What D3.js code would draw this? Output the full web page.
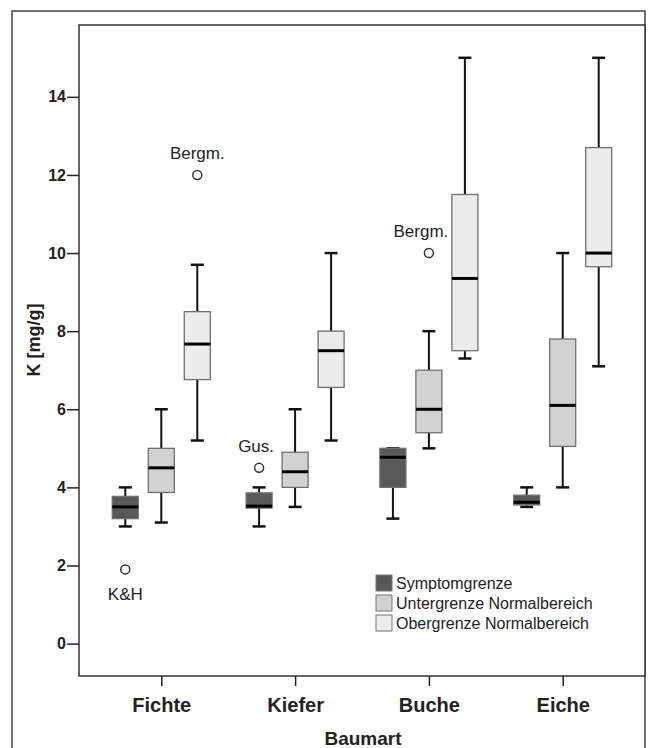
<!DOCTYPE html>
<html>
<head>
<meta charset="utf-8">
<script src="https://cdn.jsdelivr.net/npm/d3@7"></script>
<style>
  body { margin: 0; background: #fff; }
  text { font-family: "Liberation Sans", Arial, sans-serif; }
</style>
</head>
<body>
<div id="chart"></div>
<script>
var categories = ["Fichte", "Kiefer", "Buche", "Eiche"];
var series = ["Symptomgrenze", "Untergrenze Normalbereich", "Obergrenze Normalbereich"];
var colors = ["#595959", "#d2d2d2", "#ececec"];
// [whisker low, q1, median, q3, whisker high] per category
var symptom = [[3.0, 3.2, 3.5, 3.77, 4.0], [3.0, 3.47, 3.52, 3.86, 4.0], [3.2, 4.0, 4.77, 5.0, 5.0], [3.5, 3.55, 3.62, 3.8, 4.0]];
var unter = [[3.1, 3.87, 4.5, 5.0, 6.0], [3.5, 4.0, 4.4, 4.9, 6.0], [5.0, 5.4, 6.0, 7.0, 8.0], [4.0, 5.05, 6.1, 7.8, 10.0]];
var ober = [[5.2, 6.76, 7.67, 8.5, 9.7], [5.2, 6.56, 7.5, 8.0, 10.0], [7.3, 7.5, 9.35, 11.5, 15.0], [7.1, 9.65, 10.0, 12.7, 15.0]];
var yTicks = [0, 2, 4, 6, 8, 10, 12, 14];
var outliers = [
  {cat: "Fichte", s: 0, v: 1.9, label: "K&H", below: true},
  {cat: "Fichte", s: 2, v: 12.0, label: "Bergm.", below: false},
  {cat: "Kiefer", s: 0, v: 4.5, label: "Gus.", below: false},
  {cat: "Buche", s: 1, v: 10.0, label: "Bergm.", below: false}
];
var boxData = [symptom, unter, ober];

var W = 649, H = 748;
var pLeft = 79, pRight = 645, pTop = 25, pBottom = 676;

var svg = d3.select("#chart").append("svg")
  .attr("width", W).attr("height", H);

// outer frame
svg.append("rect").attr("x", 12).attr("y", 11).attr("width", pRight - 12).attr("height", H + 10)
  .attr("fill", "none").attr("stroke", "#444").attr("stroke-width", 1.5);

var x = d3.scalePoint().domain(categories).range([pLeft, pRight]).padding(0.615);
var y = d3.scaleLinear().domain([-0.83, 15.84]).range([pBottom, pTop]);
var off = d3.scalePoint().domain([0, 1, 2]).range([-36, 36]);
var bw = 26, cap = 13;

// plot frame
svg.append("rect").attr("x", pLeft).attr("y", pTop).attr("width", pRight - pLeft).attr("height", pBottom - pTop)
  .attr("fill", "#fff").attr("stroke", "#333").attr("stroke-width", 1.5);

var yAxis = svg.append("g").attr("transform", "translate(" + pLeft + ",0)")
  .call(d3.axisLeft(y).tickValues(yTicks).tickSize(12).tickPadding(1));
yAxis.select(".domain").remove();
yAxis.selectAll("line").attr("stroke", "#222").attr("stroke-width", 1.5);
yAxis.selectAll("text").attr("font-size", 16).attr("font-weight", "bold").attr("fill", "#222")
  .style("font-family", "Liberation Sans, Arial, sans-serif");

var xAxis = svg.append("g").attr("transform", "translate(0," + pBottom + ")")
  .call(d3.axisBottom(x).tickSize(10));
xAxis.select(".domain").remove();
xAxis.selectAll("line").attr("stroke", "#222").attr("stroke-width", 1.5);
xAxis.selectAll("text").attr("font-size", 20).attr("font-weight", "bold").attr("fill", "#222")
  .attr("y", 36).attr("dy", null)
  .style("font-family", "Liberation Sans, Arial, sans-serif");

svg.append("text").attr("x", 363).attr("y", 745).attr("text-anchor", "middle")
  .attr("font-size", 19).attr("font-weight", "bold").attr("fill", "#222").text("Baumart");
svg.append("text").attr("transform", "translate(40,340) rotate(-90)")
  .attr("text-anchor", "middle").attr("font-size", 18).attr("font-weight", "bold").attr("fill", "#222")
  .text("K [mg/g]");

boxData.forEach(function(arr, s) {
  var g = svg.append("g");
  var items = g.selectAll("g").data(arr).enter().append("g")
    .attr("transform", function(d, i) { return "translate(" + (x(categories[i]) + off(s)) + ",0)"; });
  items.append("line").attr("x1", 0).attr("x2", 0)
    .attr("y1", function(d) { return y(d[0]); }).attr("y2", function(d) { return y(d[4]); })
    .attr("stroke", "#111").attr("stroke-width", 2);
  items.selectAll(".cap").data(function(d) { return [d[0], d[4]]; }).enter().append("line")
    .attr("x1", -cap / 2).attr("x2", cap / 2)
    .attr("y1", function(v) { return y(v); }).attr("y2", function(v) { return y(v); })
    .attr("stroke", "#111").attr("stroke-width", 2.5);
  items.append("rect").attr("x", -bw / 2).attr("width", bw)
    .attr("y", function(d) { return y(d[3]); })
    .attr("height", function(d) { return y(d[1]) - y(d[3]); })
    .attr("fill", colors[s]).attr("stroke", "#707070").attr("stroke-width", 1.3);
  items.append("line").attr("x1", -bw / 2).attr("x2", bw / 2)
    .attr("y1", function(d) { return y(d[2]); }).attr("y2", function(d) { return y(d[2]); })
    .attr("stroke", "#000").attr("stroke-width", 3);
});

var og = svg.selectAll(".out").data(outliers).enter().append("g")
  .attr("transform", function(d) { return "translate(" + (x(d.cat) + off(d.s)) + "," + y(d.v) + ")"; });
og.append("circle").attr("r", 4.5).attr("fill", "#fff").attr("stroke", "#333").attr("stroke-width", 1.5);
og.append("text").attr("text-anchor", "middle")
  .attr("x", function(d) { return d.label === "Bergm." && d.s === 1 ? -8 : (d.label === "Gus." ? -3 : 0); })
  .attr("y", function(d) { return d.below ? 31 : -16; })
  .attr("font-size", 17).attr("fill", "#222").text(function(d) { return d.label; });

var lg = svg.append("g").attr("transform", "translate(376,575)");
var li = lg.selectAll("g").data(series).enter().append("g")
  .attr("transform", function(d, i) { return "translate(0," + (i * 20) + ")"; });
li.append("rect").attr("width", 16).attr("height", 16)
  .attr("fill", function(d, i) { return colors[i]; }).attr("stroke", "#777").attr("stroke-width", 1);
li.append("text").attr("x", 20).attr("y", 14).attr("font-size", 16).attr("fill", "#222")
  .text(function(d) { return d; });
</script>
</body>
</html>
